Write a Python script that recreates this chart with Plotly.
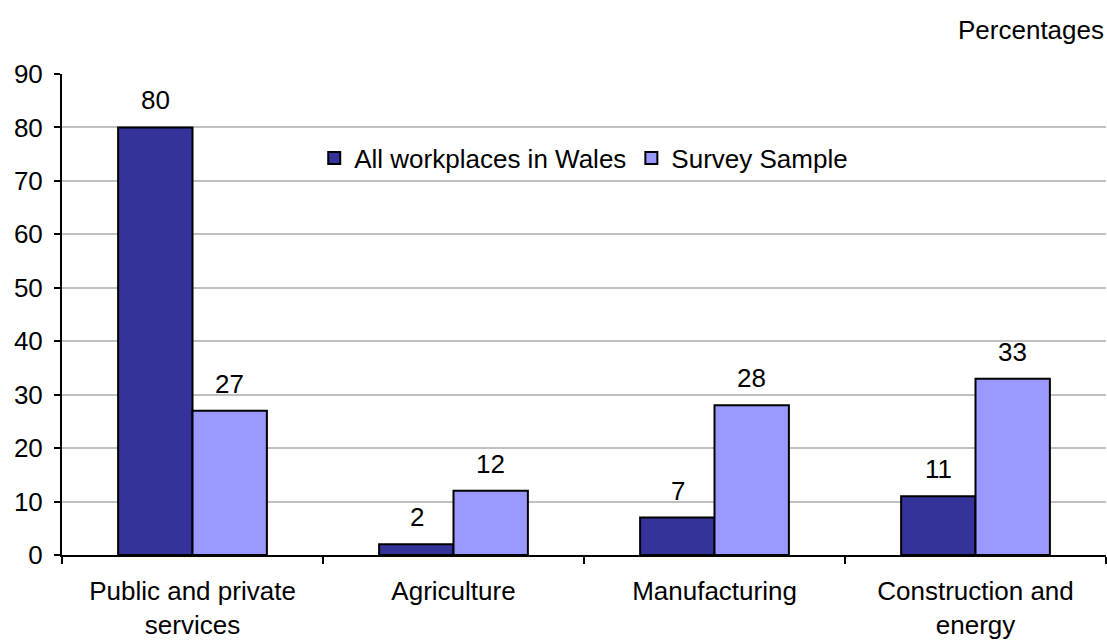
import plotly.graph_objects as go

categories = ["Public and private<br>services", "Agriculture", "Manufacturing", "Construction and<br>energy"]
all_workplaces = [80, 2, 7, 11]
survey_sample = [27, 12, 28, 33]
series_names = ["All workplaces in Wales", "Survey Sample"]
y_ticks = [0, 10, 20, 30, 40, 50, 60, 70, 80, 90]

FONT = "Liberation Sans, Arial, sans-serif"
SIZE = 26

fig = go.Figure()
fig.add_trace(go.Bar(
    x=categories, y=all_workplaces, name=series_names[0],
    marker=dict(color="#333399", line=dict(color="#000000", width=2)),
))
fig.add_trace(go.Bar(
    x=categories, y=survey_sample, name=series_names[1],
    marker=dict(color="#9999FF", line=dict(color="#000000", width=2)),
))

# value labels above each bar
annotations = []
for vals, shift in ((all_workplaces, -37), (survey_sample, 37)):
    for c, v in zip(categories, vals):
        annotations.append(dict(
            x=c, y=v, xref="x", yref="y", text=str(v), showarrow=False,
            xshift=shift, yanchor="bottom", yshift=10,
            font=dict(family=FONT, size=SIZE, color="#000000"),
        ))
annotations.append(dict(
    x=1.0, y=1.0, xref="paper", yref="paper", xanchor="right", yanchor="middle",
    xshift=0, yshift=44, text="Percentages", showarrow=False,
    font=dict(family=FONT, size=SIZE, color="#000000"),
))

fig.update_layout(
    width=1107, height=641,
    margin=dict(l=62, r=1, t=74, b=86),
    paper_bgcolor="#FFFFFF", plot_bgcolor="#FFFFFF",
    barmode="group", bargap=0.43, bargroupgap=0,
    font=dict(family=FONT, size=SIZE, color="#000000"),
    showlegend=True,
    legend=dict(
        orientation="h", x=0.2416, y=0.825, xanchor="left", yanchor="middle",
        font=dict(family=FONT, size=SIZE, color="#000000"),
        bgcolor="rgba(0,0,0,0)", itemwidth=30, tracegroupgap=0,
    ),
    annotations=annotations,
    xaxis=dict(
        showline=True, linecolor="#000000", linewidth=2,
        ticks="outside", tickson="boundaries", ticklen=7, tickwidth=2, tickcolor="#000000",
        ticklabelstandoff=12,
        showgrid=False, tickfont=dict(family=FONT, size=SIZE, color="#000000"),
    ),
    yaxis=dict(
        range=[0, 90], tickvals=y_ticks, showline=True, linecolor="#000000", linewidth=2,
        ticks="outside", ticklen=6, tickwidth=2, tickcolor="#000000",
        ticklabelstandoff=6,
        showgrid=True, gridcolor="#C0C0C0", gridwidth=2, zeroline=False,
        tickfont=dict(family=FONT, size=SIZE, color="#000000"),
    ),
)

fig.write_html("out.html")
